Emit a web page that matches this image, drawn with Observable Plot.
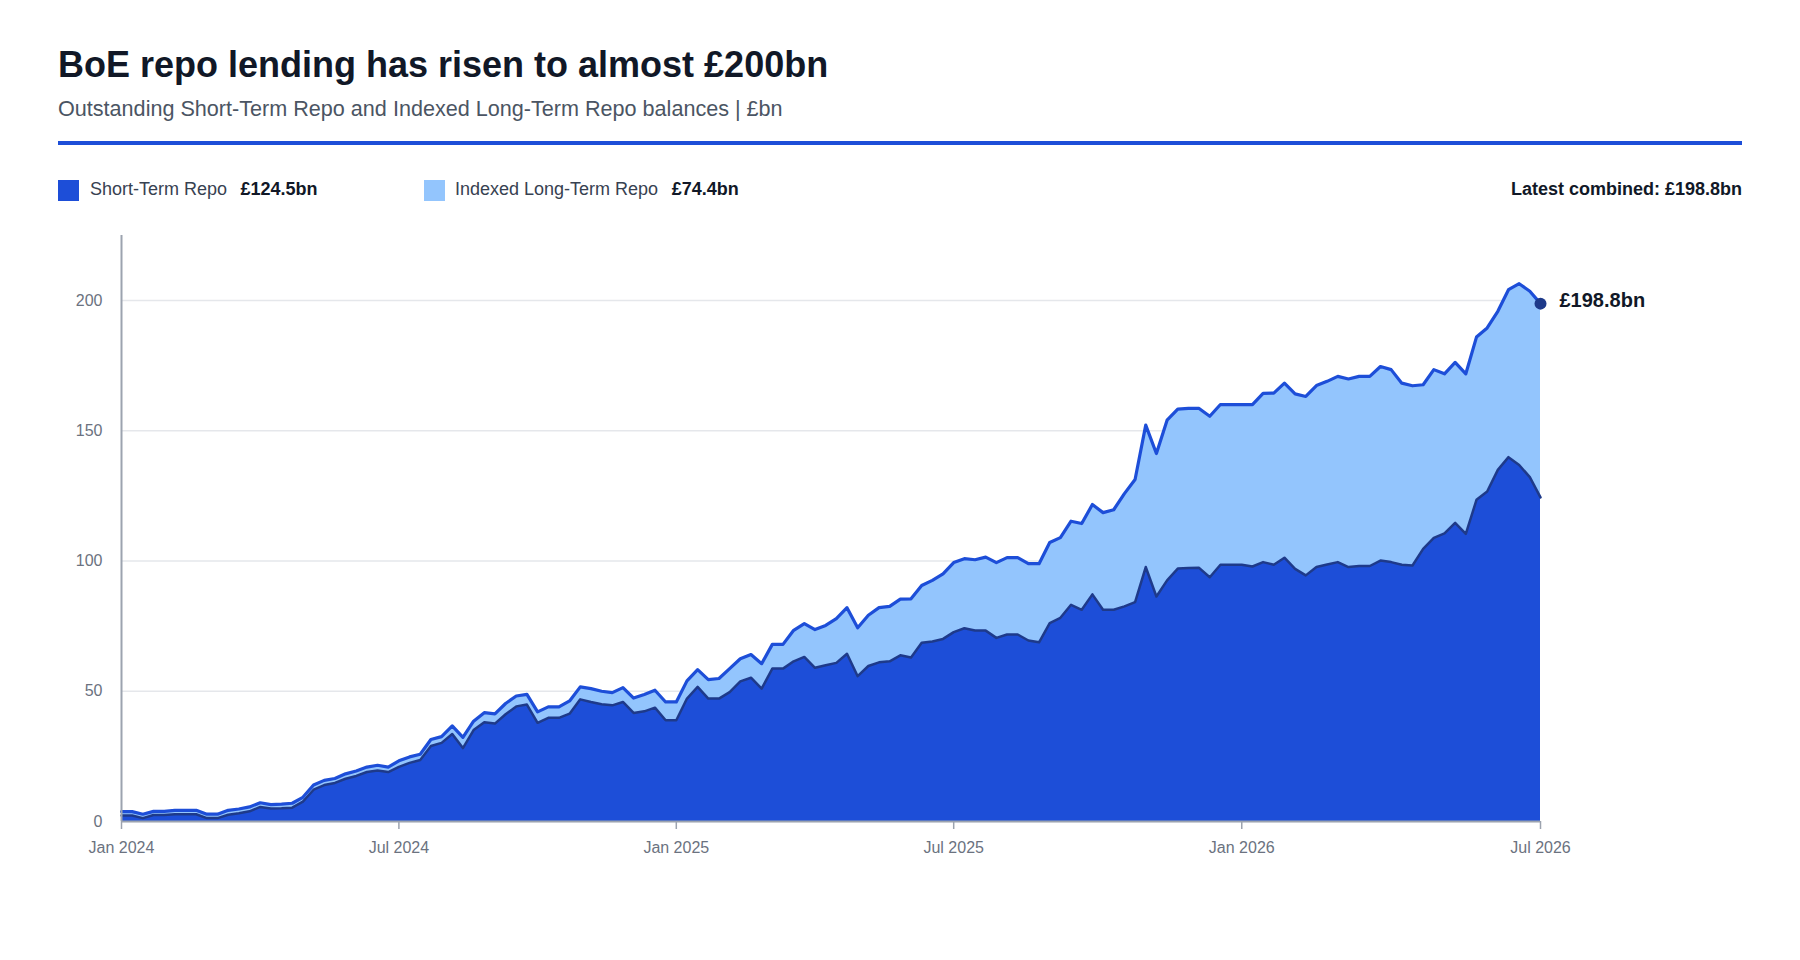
<!DOCTYPE html>
<html>
<head>
<meta charset="utf-8">
<script src="https://cdn.jsdelivr.net/npm/d3@7"></script>
<script src="https://cdn.jsdelivr.net/npm/@observablehq/plot@0.6"></script>
<style>
  html, body { margin: 0; padding: 0; background: #ffffff; }
  body { width: 1800px; height: 960px; position: relative; overflow: hidden;
         font-family: "Liberation Sans", Arial, Helvetica, sans-serif; }
  .abs { position: absolute; white-space: nowrap; }
  #title { left: 58px; top: 45px; font-size: 36px; line-height: 40px; font-weight: 700; color: #111827; }
  #subtitle { left: 58px; top: 96px; font-size: 21.6px; line-height: 26px; color: #4b5563; }
  #rule { left: 58px; top: 141px; width: 1684px; height: 4px; background: #1d4ed8; }
  .sw { width: 21px; height: 21px; top: 180px; }
  .lg { top: 178.5px; font-size: 18px; line-height: 21px; color: #374151; }
  .lg b { color: #111827; font-weight: 700; margin-left: 13.5px; }
  #latest { right: 58px; top: 178.5px; font-size: 18px; line-height: 21px; font-weight: 700; color: #111827; }
  #chart { left: 0; top: 210px; }
</style>
</head>
<body>
<div id="title" class="abs">BoE repo lending has risen to almost £200bn</div>
<div id="subtitle" class="abs">Outstanding Short-Term Repo and Indexed Long-Term Repo balances | £bn</div>
<div id="rule" class="abs"></div>
<div class="abs sw" style="left:58px;background:#1d4ed8"></div>
<div class="abs lg" id="lg1" style="left:90px"></div>
<div class="abs sw" style="left:424px;background:#93c5fd"></div>
<div class="abs lg" id="lg2" style="left:455px"></div>
<div id="latest" class="abs"></div>
<div id="chart" class="abs"></div>
<script>
// Weekly observations (index 0 = first week of Jan 2024, last = first week of Jul 2026), £bn
const shortTermRepo = [
  2.3, 2.3, 1.3, 2.5, 2.5, 2.8, 2.8, 2.8, 1.3, 1.3,
  2.6, 3.2, 3.9, 5.6, 5.0, 5.1, 5.3, 7.6, 12.2, 14.0,
  14.8, 16.4, 17.5, 19.0, 19.6, 19.0, 21.0, 22.5, 23.6, 29.0,
  30.2, 33.6, 28.2, 35.1, 38.1, 37.6, 41.2, 44.2, 44.9, 37.9,
  39.8, 39.8, 41.4, 46.9, 45.9, 45.0, 44.6, 45.9, 41.7, 42.3,
  43.7, 38.9, 38.9, 47.2, 51.7, 47.2, 47.2, 49.7, 53.8, 55.2,
  51.0, 58.7, 58.7, 61.5, 63.2, 59.0, 60.0, 60.9, 64.4, 55.8,
  59.7, 61.1, 61.5, 63.8, 63.0, 68.6, 69.1, 70.1, 72.7, 74.2,
  73.3, 73.3, 70.5, 71.8, 71.8, 69.5, 68.8, 76.2, 78.2, 83.2,
  81.3, 87.2, 81.3, 81.3, 82.6, 84.2, 97.7, 86.4, 92.6, 97.1,
  97.3, 97.4, 93.8, 98.6, 98.6, 98.6, 97.9, 99.6, 98.6, 101.3,
  97.0, 94.5, 97.7, 98.7, 99.6, 97.7, 98.1, 98.1, 100.2, 99.6,
  98.6, 98.3, 104.7, 108.9, 110.6, 114.7, 110.4, 123.5, 126.7, 135.0,
  139.9, 136.9, 132.2, 124.46
];
const indexedLongTermRepo = [
  1.5, 1.5, 1.5, 1.4, 1.4, 1.5, 1.5, 1.5, 1.5, 1.5,
  1.7, 1.6, 1.7, 1.6, 1.5, 1.6, 1.7, 1.7, 1.8, 1.8,
  1.7, 1.9, 1.9, 1.9, 2.0, 1.9, 2.3, 2.3, 2.2, 2.5,
  2.4, 3.1, 4.1, 3.4, 3.7, 3.7, 4.1, 4.0, 3.9, 4.2,
  4.2, 4.2, 4.9, 4.8, 5.1, 5.0, 4.9, 5.5, 5.7, 6.5,
  6.7, 7.0, 7.0, 6.8, 6.6, 7.3, 7.7, 9.0, 8.7, 8.9,
  9.6, 9.3, 9.3, 11.9, 12.8, 14.7, 15.3, 17.0, 17.7, 18.6,
  19.5, 21.0, 21.1, 21.6, 22.5, 22.0, 23.5, 25.0, 26.7, 26.7,
  27.2, 28.2, 28.9, 29.5, 29.5, 29.5, 30.2, 30.9, 30.8, 32.1,
  33.1, 34.5, 37.3, 38.4, 43.3, 47.1, 54.5, 54.9, 61.5, 61.2,
  61.3, 61.2, 61.8, 61.5, 61.5, 61.5, 62.2, 64.8, 65.9, 67.0,
  67.2, 68.7, 69.7, 70.3, 71.3, 72.2, 72.8, 72.8, 74.5, 73.9,
  69.7, 69.0, 63.0, 64.6, 61.3, 61.6, 61.5, 62.5, 62.8, 60.9,
  64.3, 69.6, 71.4, 74.38
];
// x-axis tick labels and the observation index at which each falls
const tickLabels = ["Jan 2024", "Jul 2024", "Jan 2025", "Jul 2025", "Jan 2026", "Jul 2026"];
const tickObs = [0, 26, 52, 78, 105, 133];
const yTicks = [0, 50, 100, 150, 200];

const rows = shortTermRepo.map((st, i) => ({
  i, st, iltr: indexedLongTermRepo[i], total: st + indexedLongTermRepo[i]
}));
const last = rows[rows.length - 1];
const fmt = v => "£" + v.toFixed(1) + "bn";

document.getElementById("lg1").innerHTML = "Short-Term Repo<b>" + fmt(last.st) + "</b>";
document.getElementById("lg2").innerHTML = "Indexed Long-Term Repo<b>" + fmt(last.iltr) + "</b>";
document.getElementById("latest").textContent = "Latest combined: " + fmt(last.total);

const chart = Plot.plot({
  width: 1800,
  height: 661,
  marginLeft: 121,
  marginRight: 260,
  marginTop: 25,
  marginBottom: 50,
  style: { fontFamily: '"Liberation Sans", Arial, sans-serif', fontSize: "16px", color: "#6b7280", background: "transparent", overflow: "visible" },
  x: { domain: [0, rows.length - 1], label: null },
  y: { domain: [0, 225], label: null },
  marks: [
    Plot.gridY(yTicks, { stroke: "#e5e7eb", strokeOpacity: 1, strokeWidth: 1.5 }),
    Plot.areaY(rows, { x: "i", y: "st", fill: "#1d4ed8" }),
    Plot.areaY(rows, { x: "i", y1: "st", y2: "total", fill: "#93c5fd" }),
    Plot.lineY(rows, { x: "i", y: "st", stroke: "#1e3a8a", strokeWidth: 2.5 }),
    Plot.lineY(rows, { x: "i", y: "total", stroke: "#1d4ed8", strokeWidth: 3.2 }),
    Plot.ruleY([0], { stroke: "#9ca3af", strokeWidth: 2 }),
    Plot.ruleX([0], { stroke: "#9ca3af", strokeWidth: 2 }),
    Plot.axisY(yTicks, { tickSize: 0, tickPadding: 19, fontSize: 16, fill: "#6b7280", label: null }),
    Plot.axisX(tickObs, { tickSize: 8, tickPadding: 12, fontSize: 16, stroke: "#9ca3af", strokeWidth: 1.5, fill: "#6b7280", label: null,
      tickFormat: d => tickLabels[tickObs.indexOf(d)] }),
    Plot.dot([last], { x: "i", y: "total", r: 6, fill: "#1e3a8a", stroke: "none" }),
    Plot.text([last], { x: "i", y: "total", text: d => fmt(d.total), dx: 19, dy: -3, textAnchor: "start",
      fontSize: 20, fontWeight: 700, fill: "#111827" })
  ]
});
document.getElementById("chart").appendChild(chart);
</script>
</body>
</html>
